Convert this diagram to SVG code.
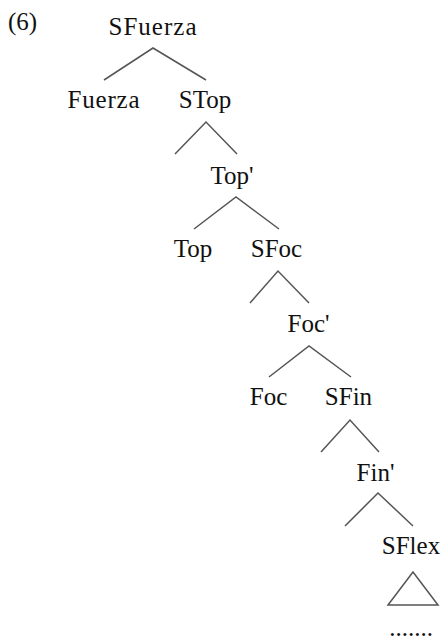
<svg xmlns="http://www.w3.org/2000/svg" width="442" height="640" viewBox="0 0 442 640">
<style>
text{font-size:25px;fill:#111;text-anchor:middle}
.e{stroke:#555;stroke-width:1.5;fill:none}
</style>
<rect width="442" height="640" fill="#fff"/>
<g font-family="'Liberation Serif', 'Times New Roman', 'DejaVu Serif', serif">
<text x="8" y="30" style="text-anchor:start">(6)</text>
<g id="connectors">
<polyline class="e" points="104,80 153,48 206,80"/>
<polyline class="e" points="175,154 206,122 237,154"/>
<polyline class="e" points="194,229 236,197 279,229"/>
<polyline class="e" points="250,303 278,271 309,303"/>
<polyline class="e" points="269,377 309,346 351,377"/>
<polyline class="e" points="321,452 350,420 379,452"/>
<polyline class="e" points="345,526 378,493 413,526"/>
<polygon class="e" points="413,572 388,605 438,605"/>
</g>
<g id="n-sfuerza"><text x="152.5" y="35" textLength="88" lengthAdjust="spacing">SFuerza</text></g>
<g id="n-fuerza"><text x="103.5" y="108" textLength="72" lengthAdjust="spacing">Fuerza</text></g>
<g id="n-stop"><text x="205" y="108">STop</text></g>
<g id="n-topbar"><text x="232" y="184">Top'</text></g>
<g id="n-top"><text x="193" y="257">Top</text></g>
<g id="n-sfoc"><text x="276.5" y="257">SFoc</text></g>
<g id="n-focbar"><text x="308.5" y="332">Foc'</text></g>
<g id="n-foc"><text x="268.5" y="405">Foc</text></g>
<g id="n-sfin"><text x="348.5" y="405">SFin</text></g>
<g id="n-finbar"><text x="375.5" y="481">Fin'</text></g>
<g id="n-sflex"><text x="411" y="554">SFlex</text></g>
<g id="n-dots"><text x="411" y="636">.......</text></g>
</g>
</svg>
